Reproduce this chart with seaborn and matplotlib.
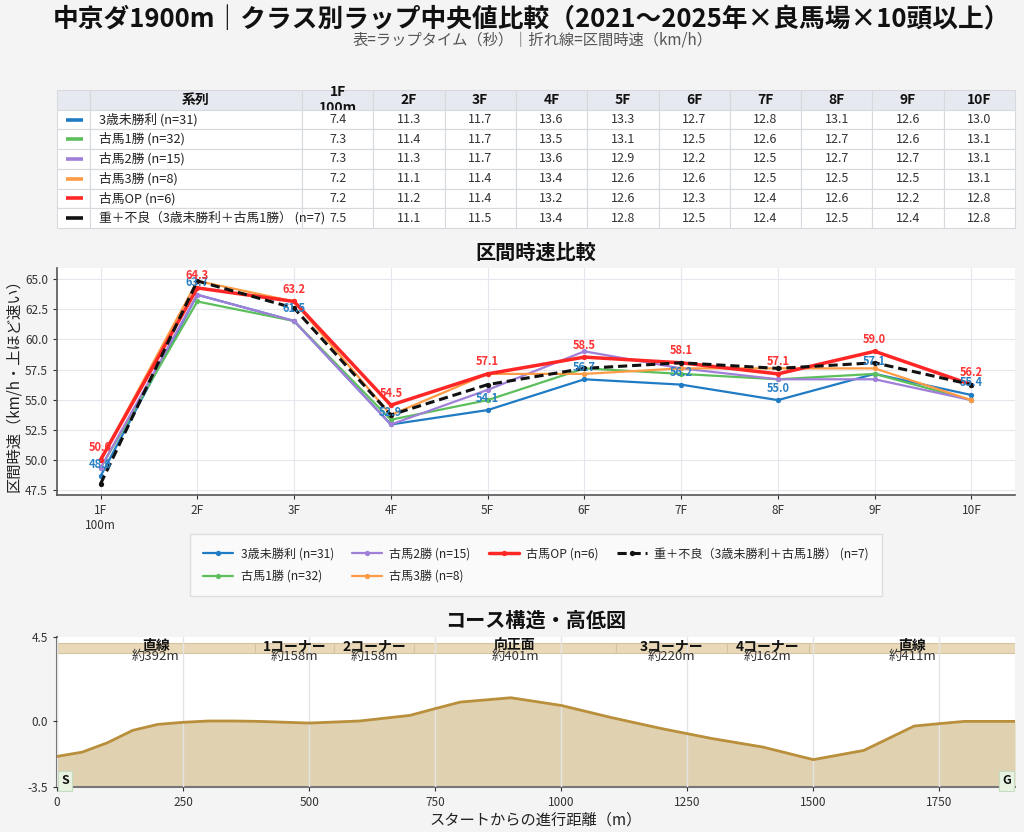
import numpy as np
import pandas as pd
import matplotlib
matplotlib.use('Agg')
import matplotlib.pyplot as plt
import seaborn as sns

sns.set_theme(style='white')
plt.rcParams['font.family'] = ['Noto Sans CJK JP', 'DejaVu Sans']
plt.rcParams['axes.unicode_minus'] = False

# ---------------- data ----------------
furlongs = ['1F', '2F', '3F', '4F', '5F', '6F', '7F', '8F', '9F', '10F']
tick_labels = ['1F\n100m', '2F', '3F', '4F', '5F', '6F', '7F', '8F', '9F', '10F']
header_labels = ['1F\n100m', '2F', '3F', '4F', '5F', '6F', '7F', '8F', '9F', '10F']
section_dist_m = [100, 200, 200, 200, 200, 200, 200, 200, 200, 200]

series_names = ['3歳未勝利 (n=31)', '古馬1勝 (n=32)', '古馬2勝 (n=15)',
                '古馬3勝 (n=8)', '古馬OP (n=6)', '重＋不良（3歳未勝利＋古馬1勝） (n=7)']
lap_3sai_miss = [7.4, 11.3, 11.7, 13.6, 13.3, 12.7, 12.8, 13.1, 12.6, 13.0]
lap_1win = [7.3, 11.4, 11.7, 13.5, 13.1, 12.5, 12.6, 12.7, 12.6, 13.1]
lap_2win = [7.3, 11.3, 11.7, 13.6, 12.9, 12.2, 12.5, 12.7, 12.7, 13.1]
lap_3win = [7.2, 11.1, 11.4, 13.4, 12.6, 12.6, 12.5, 12.5, 12.5, 13.1]
lap_op = [7.2, 11.2, 11.4, 13.2, 12.6, 12.3, 12.4, 12.6, 12.2, 12.8]
lap_heavy = [7.5, 11.1, 11.5, 13.4, 12.8, 12.5, 12.4, 12.5, 12.4, 12.8]
all_laps = [lap_3sai_miss, lap_1win, lap_2win, lap_3win, lap_op, lap_heavy]

series_colors = ['#1f7bc4', '#5cbf5c', '#a07fd9', '#ff9a45', '#ff2626', '#111111']
series_lw = [1.6, 1.6, 1.6, 1.6, 2.5, 2.2]
series_ls = ['-', '-', '-', '-', '-', (0, (3.0, 1.6))]
annotated = {0: '#2a80c4', 4: '#ff3333'}

elev_x = [0, 50, 100, 150, 200, 250, 300, 350, 400, 500, 600, 700, 750, 800, 900,
          1000, 1100, 1200, 1300, 1400, 1500, 1600, 1700, 1750, 1800, 1900]
elev_y = [-1.87, -1.64, -1.14, -0.48, -0.16, -0.05, 0.02, 0.02, 0.0, -0.09, 0.02, 0.32, 0.68, 1.03, 1.26,
          0.85, 0.20, -0.39, -0.92, -1.37, -2.04, -1.55, -0.25, -0.12, 0.0, 0.0]
sec_names = ['直線', '1コーナー', '2コーナー', '向正面', '3コーナー', '4コーナー', '直線']
sec_lengths = [392, 158, 158, 401, 220, 162, 411]

# ---------------- figure ----------------
W, H = 1024, 832
fig = plt.figure(figsize=(W / 100, H / 100), dpi=100, facecolor='#f4f4f4')

def rect(x0, y0, x1, y1):
    return [x0 / W, 1 - y1 / H, (x1 - x0) / W, (y1 - y0) / H]

fig.text(0.519, 1 - 20 / H, '中京ダ1900m｜クラス別ラップ中央値比較（2021〜2025年×良馬場×10頭以上）',
         ha='center', va='center', fontsize=18.5, fontweight='bold', color='#111111')
fig.text(0.52, 1 - 40 / H, '表=ラップタイム（秒）｜折れ線=区間時速（km/h）',
         ha='center', va='center', fontsize=11, color='#555555')

# ---------------- table ----------------
axt = fig.add_axes(rect(57, 90, 1015, 228))
axt.axis('off')
cell_text = [['', ''] + [f'{v:.1f}' for v in laps] for laps in all_laps]
col_labels = ['', '系列'] + header_labels
col_w = [33, 212] + [71.3] * 10
tbl = axt.table(cellText=cell_text, colLabels=col_labels, colWidths=[w / sum(col_w) for w in col_w],
                bbox=[0, 0, 1, 1], cellLoc='center')
tbl.auto_set_font_size(False)
tbl.set_fontsize(9)
for (r, c), cell in tbl.get_celld().items():
    cell.set_edgecolor('#d6d9de')
    cell.set_linewidth(0.8)
    if r == 0:
        cell.set_facecolor('#e6eaf0')
        cell.get_text().set_fontweight('bold')
        cell.get_text().set_fontsize(10)
        cell.get_text().set_color('#111111')
    else:
        cell.set_facecolor('white')
        cell.get_text().set_color('#333333')
nrows = len(series_names) + 1
for i, (col, name) in enumerate(zip(series_colors, series_names)):
    yc = 1 - (i + 1.5) / nrows
    axt.plot([0.0095, 0.027], [yc, yc], transform=axt.transAxes, color=col, lw=2.6,
             solid_capstyle='butt', zorder=10, clip_on=False)
    axt.text((33 + 9) / sum(col_w), yc, name, transform=axt.transAxes, ha='left', va='center',
             fontsize=9.2, color='#222222', zorder=11)

# ---------------- speed line chart ----------------
axl = fig.add_axes(rect(57, 268, 1015, 495))
axl.set_facecolor('white')
idx = np.arange(len(furlongs))
for k, (name, laps) in enumerate(zip(series_names, all_laps)):
    speeds = np.array(section_dist_m) / np.array(laps) * 3.6
    sns.lineplot(x=idx, y=speeds, ax=axl, color=series_colors[k], lw=series_lw[k],
                 linestyle=series_ls[k], marker='o', markersize=3.8, markeredgewidth=0,
                 label=name, zorder=3 + k)
    if k in annotated:
        for xi, sp in zip(idx, speeds):
            axl.annotate(f'{sp:.1f}', (xi, sp), xytext=(0, 4), textcoords='offset points',
                         ha='center', va='bottom', fontsize=8, fontweight='bold',
                         color=annotated[k], zorder=20)
axl.set_xlim(-0.45, len(furlongs) - 1 + 0.45)
axl.set_ylim(47.08, 65.94)
yt = [47.5, 50.0, 52.5, 55.0, 57.5, 60.0, 62.5, 65.0]
axl.set_yticks(yt)
axl.set_yticklabels([f'{v:.1f}' for v in yt])
axl.set_xticks(idx)
axl.set_xticklabels(tick_labels)
axl.tick_params(axis='both', labelsize=8.5, colors='#333333', length=3, width=0.8, direction='out',
                bottom=True, left=True)
axl.grid(True, color='#e6e6ee', lw=0.8)
axl.set_axisbelow(True)
for s in ['top', 'right']:
    axl.spines[s].set_visible(False)
for s in ['left', 'bottom']:
    axl.spines[s].set_color('#555555')
    axl.spines[s].set_linewidth(1.2)
axl.set_xlabel('')
axl.set_ylabel('区間時速（km/h・上ほど速い）', fontsize=11, color='#222222', labelpad=2)
fig.text(536 / W, 1 - 252 / H, '区間時速比較', ha='center', va='center', fontsize=14.5,
         fontweight='bold', color='#111111')
handles, labels = axl.get_legend_handles_labels()
axl.get_legend().remove()
leg = fig.legend(handles, labels, loc='upper center', bbox_to_anchor=(536 / W, 1 - 538 / H),
                 ncol=4, fontsize=8.7, frameon=True, borderaxespad=0, handlelength=2.5,
                 handletextpad=0.6, columnspacing=1.5, borderpad=0.8, labelspacing=0.75)
leg.get_frame().set_facecolor('#fcfcfc')
leg.get_frame().set_edgecolor('#d8d8d8')
leg.get_frame().set_boxstyle('square')

# ---------------- elevation ----------------
axe = fig.add_axes(rect(57, 637, 1015, 787))
axe.set_facecolor('white')
axe.fill_between(elev_x, elev_y, -3.5, color='#e0d1b1', zorder=1, lw=0)
sns.lineplot(x=elev_x, y=elev_y, ax=axe, color='#b98f3c', lw=2.0, zorder=4)
starts = np.concatenate([[0], np.cumsum(sec_lengths)[:-1]])
axe.broken_barh(list(zip(starts, sec_lengths)), (3.65, 0.55), facecolors='#e9d9b9',
                edgecolors='#d4c4a4', lw=0.8, zorder=2)
for st, ln, nm in zip(starts, sec_lengths, sec_names):
    cx = st + ln / 2
    axe.text(cx, 4.02, nm, ha='center', va='center', fontsize=10, fontweight='bold',
             color='#111111', zorder=6)
    axe.text(cx, 3.45, f'約{ln}m', ha='center', va='center', fontsize=9.5, color='#333333', zorder=6)
axe.text(8, -3.18, 'S', ha='left', va='center', fontsize=9, fontweight='bold', color='#111111',
         bbox=dict(boxstyle='square,pad=0.25', fc='#e8f3e2', ec='#c5ddc0', lw=0.8), zorder=7)
axe.text(1892, -3.18, 'G', ha='right', va='center', fontsize=9, fontweight='bold', color='#111111',
         bbox=dict(boxstyle='square,pad=0.25', fc='#e8f3e2', ec='#c5ddc0', lw=0.8), zorder=7)
axe.set_xlim(0, 1900)
axe.set_ylim(-3.5, 4.5)
axe.set_yticks([-3.5, 0.0, 4.5])
axe.set_yticklabels(['-3.5', '0.0', '4.5'])
axe.set_xticks([0, 250, 500, 750, 1000, 1250, 1500, 1750])
axe.tick_params(axis='both', labelsize=8.5, colors='#333333', length=3, width=0.8,
                bottom=True, left=True)
axe.grid(True, axis='x', color='#e4e4e4', lw=1.0, zorder=3)
axe.set_axisbelow(False)
for s in ['top', 'right']:
    axe.spines[s].set_visible(False)
for s in ['left', 'bottom']:
    axe.spines[s].set_color('#777777')
    axe.spines[s].set_linewidth(1.5)
axe.set_ylabel('')
axe.set_xlabel('スタートからの進行距離（m）', fontsize=11, color='#222222', labelpad=2)
fig.text(536 / W, 1 - 620 / H, 'コース構造・高低図', ha='center', va='center', fontsize=14.5,
         fontweight='bold', color='#111111')

fig.savefig('out.png', dpi=100, facecolor=fig.get_facecolor())
